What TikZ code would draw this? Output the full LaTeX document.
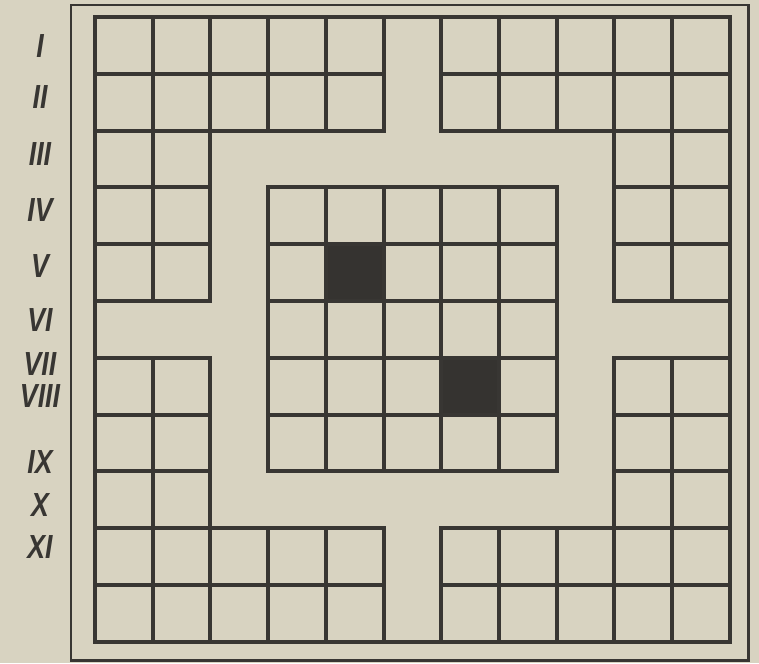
\documentclass[tikz,border=0pt]{standalone}
\usepackage{fontspec}
\usepackage{xcolor}
\usepackage{tikz}
\newfontfamily\rowfont[FakeStretch=0.8]{Liberation Sans}
\definecolor{paper}{RGB}{216,211,193}
\definecolor{ink}{RGB}{56,54,51}
\tikzset{
  gridline/.style={draw=ink,line width=2.3pt,line cap=rect,step=1},
  outerframe/.style={draw=ink,line width=1.7pt},
  darkcell/.style={fill=ink!95!black},
  rowlab/.style={text=ink,font=\rowfont\fontsize{19}{21}\selectfont\bfseries\itshape,inner sep=0pt}
}

\begin{document}
\begin{tikzpicture}[x=0.02cm,y=-0.02cm]
  \useasboundingbox (0,0) rectangle (759,663);
  \fill[paper] (0,0) rectangle (759,663);
  \draw[outerframe] (71,5) rectangle (748,660);
  % row numbers
  \foreach \lab/\yy [count=\k] in {I/46,II/97,III/154,IV/210,V/266,VI/320,VII/364,VIII/396,IX/462,X/505,XI/547}
    \node[rowlab] (r\k) at (40,\yy) {\lab};
  % board, one unit = one cell
  \begin{scope}[shift={(1.9cm,-12.84cm)},x=1.1545cm,y=1.1364cm]
    \fill[darkcell] (4,6) rectangle (5,7);
    \fill[darkcell] (6,4) rectangle (7,5);
    \draw[gridline] (0,0) rectangle (11,11);
    \draw[gridline] (0,9) grid (5,11);
    \draw[gridline] (0,6) grid (2,9);
    \draw[gridline] (6,9) grid (11,11);
    \draw[gridline] (9,6) grid (11,9);
    \draw[gridline] (0,2) grid (2,5);
    \draw[gridline] (0,0) grid (5,2);
    \draw[gridline] (9,2) grid (11,5);
    \draw[gridline] (6,0) grid (11,2);
    \draw[gridline] (3,3) grid (8,8);
  \end{scope}
\end{tikzpicture}
\end{document}
